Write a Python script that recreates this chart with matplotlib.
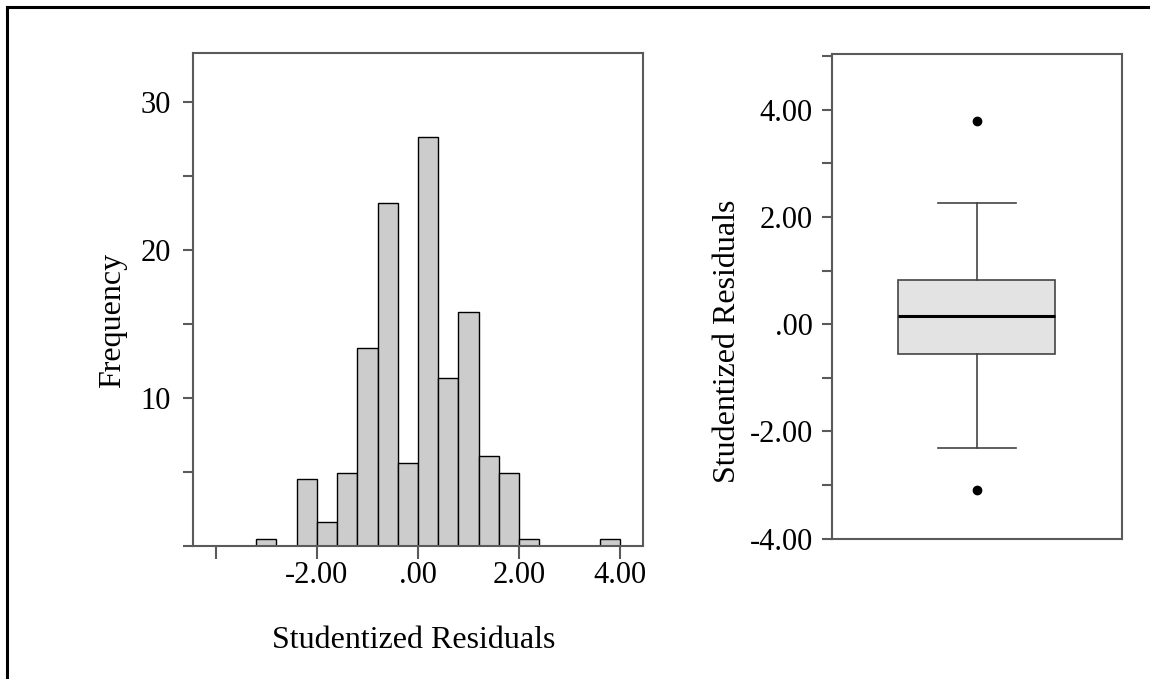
import matplotlib
matplotlib.use("Agg")
import matplotlib.pyplot as plt
from matplotlib.lines import Line2D

# ---- data ----
bin_left = [-3.2, -2.4, -2.0, -1.6, -1.2, -0.8, -0.4, 0.0, 0.4, 0.8, 1.2, 1.6, 2.0, 3.6]
freq = [0.45, 4.5, 1.62, 4.91, 13.38, 23.18, 5.59, 27.64, 11.35, 15.83, 6.08, 4.91, 0.45, 0.45]
bin_width = 0.4

hist_xticks = [-4, -2, 0, 2, 4]
hist_xticklabels = ["", "-2.00", ".00", "2.00", "4.00"]
hist_yticks = [0, 10, 20, 30]
hist_yticklabels = ["", "10", "20", "30"]

box_q1 = -0.56
box_med = 0.15
box_q3 = 0.83
box_whislo = -2.31
box_whishi = 2.25
box_fliers = [3.78, -3.09]

box_yticks = [-4, -2, 0, 2, 4]
box_yticklabels = ["-4.00", "-2.00", ".00", "2.00", "4.00"]

xlabel_text = "Studentized Residuals"
hist_ylabel_text = "Frequency"
box_ylabel_text = "Studentized Residuals"

# ---- style ----
plt.rcParams['font.family'] = ['Liberation Serif', 'DejaVu Serif']
W, H = 1150, 679
fig = plt.figure(figsize=(W / 100, H / 100), dpi=100)
spine_col = "#5a5a5a"

def fx(px):
    return px / W

def fy(py):
    return 1 - py / H

# Histogram axes
ax1 = fig.add_axes([fx(193.3), fy(546), fx(642.7) - fx(193.3), fy(53.3) - fy(546)])
ax1.bar(bin_left, freq, width=bin_width, align='edge', color="#cccccc",
        edgecolor="black", linewidth=1.0, zorder=2)
ax1.set_xlim(-4.44, 4.44)
ax1.set_ylim(0, 33.3)
ax1.set_xticks(hist_xticks)
ax1.set_xticklabels(hist_xticklabels)
ax1.set_yticks(hist_yticks)
ax1.set_yticklabels(hist_yticklabels)
ax1.set_yticks([5, 15, 25], minor=True)
ax1.tick_params(axis='x', direction='out', length=9, width=1.5, color=spine_col,
                labelsize=22, pad=2)
ax1.tick_params(axis='y', which='both', direction='out', length=7, width=1.5,
                color=spine_col, labelsize=22, pad=9)
for s in ax1.spines.values():
    s.set_color(spine_col)
    s.set_linewidth(1.5)

fig.text(fx(113), fy(320), hist_ylabel_text, rotation=90, ha='center', va='center', fontsize=23)
fig.text(fx(414), fy(640), xlabel_text, ha='center', va='center', fontsize=23)

# Boxplot axes
ax2 = fig.add_axes([fx(831.7), fy(538.8), fx(1121.7) - fx(831.7), fy(54.3) - fy(538.8)])
stats = [dict(med=box_med, q1=box_q1, q3=box_q3, whislo=box_whislo,
              whishi=box_whishi, fliers=box_fliers)]
ax2.bxp(stats, positions=[1], widths=0.54, capwidths=0.27, patch_artist=True,
        boxprops=dict(facecolor="#e3e3e3", edgecolor="#444444", linewidth=1.2),
        medianprops=dict(color="black", linewidth=2.2),
        whiskerprops=dict(color="#444444", linewidth=1.2),
        capprops=dict(color="#444444", linewidth=1.2),
        flierprops=dict(marker='o', markerfacecolor='black', markeredgecolor='black',
                        markersize=6))
ax2.set_xlim(0.5, 1.5)
ax2.set_ylim(-4.0, 5.03)
ax2.set_xticks([])
ax2.set_yticks(box_yticks)
ax2.set_yticklabels(box_yticklabels)
ax2.set_yticks([-3, -1, 1, 3, 5], minor=True)
ax2.tick_params(axis='y', which='both', direction='out', length=7.5, width=1.5,
                color=spine_col, labelsize=22, pad=6)
for s in ax2.spines.values():
    s.set_color(spine_col)
    s.set_linewidth(1.5)
ax2.set_ylabel(box_ylabel_text, fontsize=23)
ax2.yaxis.set_label_coords(fx(728) - fx(831.7), 0.0)
ax2.yaxis.label.set_position((0, 0))
ax2.yaxis.label.set_va('center')
ax2.yaxis.set_label_coords((728 - 831.7) / (1121.7 - 831.7), (538.8 - 341) / (538.8 - 54.3))

# Outer frame lines (top and left)
fig.add_artist(Line2D([fx(7), 1], [fy(7), fy(7)], color="black", linewidth=2.2,
                      transform=fig.transFigure))
fig.add_artist(Line2D([fx(7), fx(7)], [0, fy(7)], color="black", linewidth=2.2,
                      transform=fig.transFigure))

fig.savefig("out.png", dpi=100)
